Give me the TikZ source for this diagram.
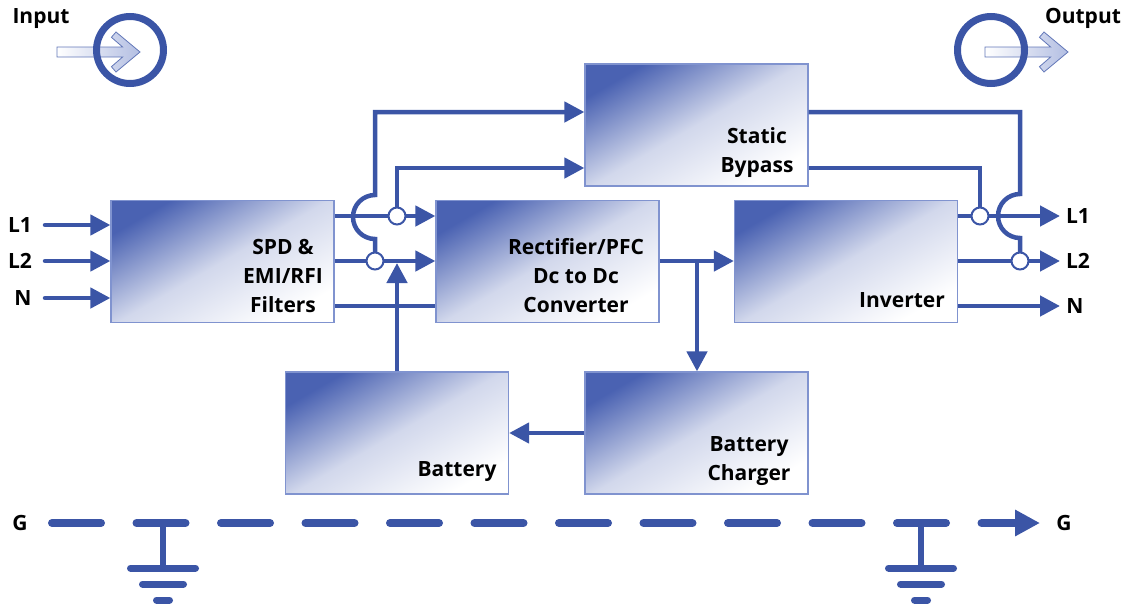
\documentclass[tikz,border=0pt]{standalone}
\usepackage{fontspec}
\setmainfont{Open Sans}
\usetikzlibrary{arrows.meta}
\definecolor{lineblue}{HTML}{3B55A6}
\definecolor{boxblue}{HTML}{4A62B2}
\definecolor{edgeblue}{HTML}{8093CF}

\begin{document}
\begin{tikzpicture}[x=1pt, y=-1pt]
\tikzstyle{Block}=[draw=edgeblue, line width=1.2pt, shading=axis,
                   top color=boxblue, bottom color=white, middle color=boxblue!25,
                   shading angle=30, minimum width=223pt, minimum height=122pt,
                   inner sep=0pt]
\tikzstyle{Label}=[font=\fontsize{21}{29}\selectfont\bfseries, align=center,
                   inner sep=0pt]
\tikzstyle{Wire}=[draw=lineblue, line width=4.5pt]
\tikzstyle{Flow}=[-{Triangle[length=20pt,width=20pt]}]
\tikzstyle{Dot}=[circle, draw=lineblue, line width=2pt, fill=white,
                 minimum size=17pt, inner sep=0pt]
\tikzstyle{Ring}=[circle, draw=lineblue, line width=7pt, minimum size=67pt,
                  inner sep=0pt]
\tikzstyle{Hollow}=[draw=lineblue!80, line width=0.8pt, left color=white,
                    right color=edgeblue!60]
\useasboundingbox (0,0) rectangle (1124,608);

\node[Block] (filt) at (222.5,261.5) {};
\node[Block] (rect) at (547.5,261.5) {};
\node[Block] (byp) at (696.5,125) {};
\node[Block] (inv) at (846,261.5) {};
\node[Block] (bat) at (397,433) {};
\node[Block] (chg) at (696.5,433) {};

\node[Label] (filtT) at (283,276) {SPD \&\\EMI/RFI\\Filters};
\node[Label] (rectT) at (576,276) {Rectifier/PFC\\Dc to Dc\\Converter};
\node[Label] (bypT) at (757,153) {Static\\Bypass};
\node[Label] (invT) at (902,300) {Inverter};
\node[Label] (batT) at (457,472) {Battery};
\node[Label] (chgT) at (749,461) {Battery\\Charger};

\coordinate (iL1) at (45,225);
\coordinate (iL2) at (45,261);
\coordinate (iN) at (45,298);
\coordinate (oL1) at (1060,216);
\coordinate (oL2) at (1060,261);
\coordinate (oN) at (1060,306);
\coordinate (jA) at (397,216);
\coordinate (jB) at (375,261);
\coordinate (jC) at (980,216);
\coordinate (jD) at (1020,261);
\coordinate (bypU) at (0,112);
\coordinate (bypL) at (0,168);
\coordinate (nMid) at (0,306);
\coordinate (tap) at (697,261);

\node[Label] (tL1) at (20,225) {L1};
\node[Label] (tL2) at (20,261) {L2};
\node[Label] (tN) at (23,298) {N};
\node[Label] (uL1) at (1078,216) {L1};
\node[Label] (uL2) at (1078,261) {L2};
\node[Label] (uN) at (1075,306) {N};

\draw[Wire,Flow,line cap=round] (iL1) -- (iL1 -| filt.west);
\draw[Wire,Flow,line cap=round] (iL2) -- (iL2 -| filt.west);
\draw[Wire,Flow,line cap=round] (iN) -- (iN -| filt.west);

\draw[Wire] (filt.east |- jA) -- (jA);
\draw[Wire,Flow] (jA) -- (rect.west |- jA);
\draw[Wire] (filt.east |- jB) -- (jB);
\draw[Wire,Flow] (jB) -- (rect.west |- jB);
\draw[Wire] (filt.east |- nMid) -- (rect.west |- nMid);

\draw[Wire,Flow] (jA) -- (jA |- bypL) -- (byp.west |- bypL);
\draw[Wire,Flow] (jB) -- (375,239) arc[start angle=90, end angle=270, radius=22]
  -- (jB |- bypU) -- (byp.west |- bypU);

\draw[Wire,Flow,shorten >=2pt] (bat.north) -- (bat.north |- jB);

\draw[Wire,Flow] (rect.east |- tap) -- (inv.west |- tap);
\draw[Wire,Flow] (tap) -- (tap |- chg.north);
\draw[Wire,Flow] (chg.west) -- (bat.east);

\draw[Wire] (byp.east |- bypL) -- (jC |- bypL) -- (jC);
\draw[Wire] (byp.east |- bypU) -- (jD |- bypU) -- (1020,194)
  arc[start angle=270, end angle=90, radius=22] -- (jD);

\draw[Wire] (inv.east |- jC) -- (jC);
\draw[Wire,Flow] (jC) -- (oL1);
\draw[Wire] (inv.east |- jD) -- (jD);
\draw[Wire,Flow] (jD) -- (oL2);
\draw[Wire,Flow] (inv.east |- oN) -- (oN);

\node[Dot] (dA) at (jA) {};
\node[Dot] (dB) at (jB) {};
\node[Dot] (dC) at (jC) {};
\node[Dot] (dD) at (jD) {};

\coordinate (gL) at (52,523);
\coordinate (gR) at (1040,523);
\node[Label] (gT1) at (20,523) {G};
\node[Label] (gT2) at (1064,523) {G};
\draw[lineblue, line width=8pt, line cap=round, dash pattern=on 49pt off 35.5pt,
      -{Triangle[length=25pt,width=25pt]}] (gL) -- (gR);
\foreach \gx in {163,921}
{
  \draw[lineblue, line width=6pt] (\gx,523) -- (\gx,568);
  \draw[lineblue, line width=7pt, line cap=round] ({\gx-32.5},568) -- ({\gx+32.5},568);
  \draw[lineblue, line width=7pt, line cap=round] ({\gx-20.5},584) -- ({\gx+20.5},584);
  \draw[lineblue, line width=7pt, line cap=round] ({\gx-6.5},600) -- ({\gx+6.5},600);
}

\node[Label] (inT) at (41,19) {Input};
\node[Label] (outT) at (1083,18) {Output};
\draw[Hollow] (57,47) -- (122.6,47) -- (111.4,37.3) -- (116,32) -- (140,52)
  -- (116,72) -- (111.4,66.7) -- (122.6,57) -- (57,57) -- cycle;
\draw[Hollow] (985,47) -- (1050.6,47) -- (1039.4,37.3) -- (1044,32) -- (1068,52)
  -- (1044,72) -- (1039.4,66.7) -- (1050.6,57) -- (985,57) -- cycle;
\node[Ring] (inR) at (130,50) {};
\node[Ring] (outR) at (991,50) {};
\end{tikzpicture}
\end{document}
